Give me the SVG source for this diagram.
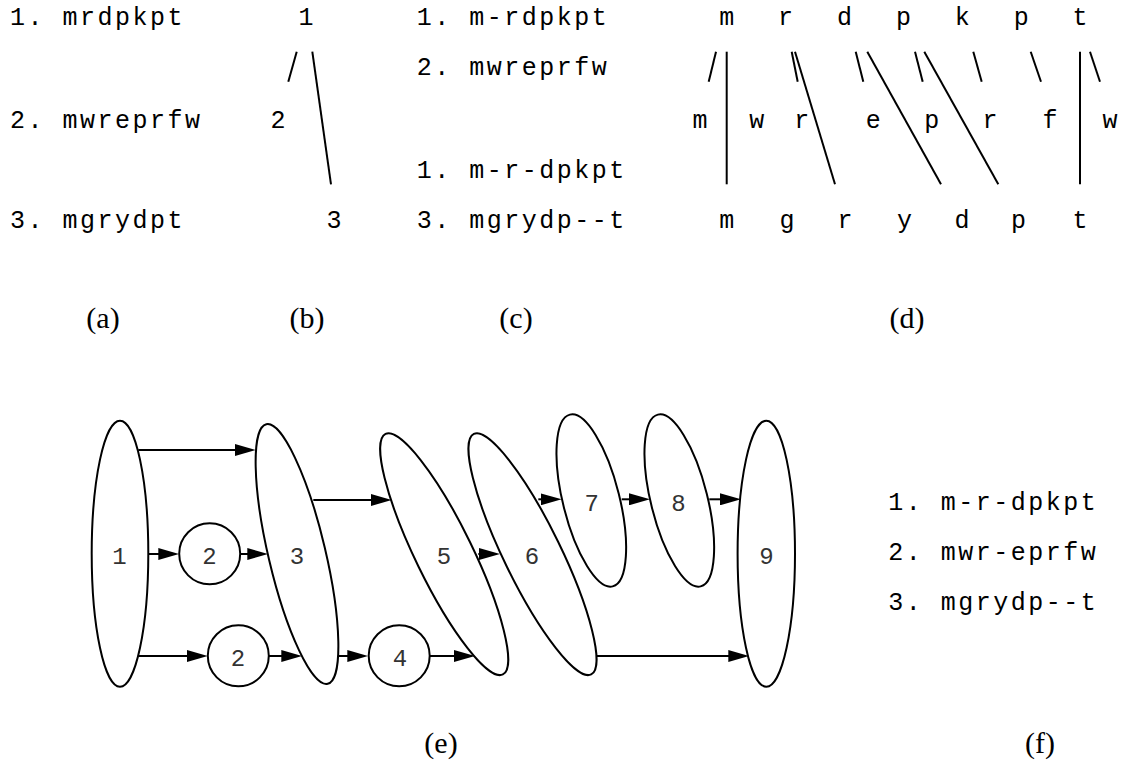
<svg xmlns="http://www.w3.org/2000/svg" width="1125" height="771" viewBox="0 0 1125 771">
<style>
  .mono { font-family: "Liberation Mono", "DejaVu Sans Mono", monospace; font-size: 25px; fill: #000; }
  .row { letter-spacing: 2.5px; }
  .ch { text-anchor: middle; }
  .cap { font-family: "Liberation Serif", "DejaVu Serif", serif; font-size: 30px; fill: #000; text-anchor: middle; }
  .seg { stroke: #000; stroke-width: 2; fill: none; }
  .node { fill: none; stroke: #000; stroke-width: 2; }
  .lbl { font-family: "Liberation Mono", "DejaVu Sans Mono", monospace; font-size: 24px; fill: #333; text-anchor: middle; }
  .edge { stroke: #000; stroke-width: 2; fill: none; marker-end: url(#ah); }
</style>
<defs>
  <marker id="ah" markerUnits="userSpaceOnUse" markerWidth="21" markerHeight="12" refX="11" refY="6" orient="auto">
    <path d="M0,0 L21,6 L0,12 z" fill="#000"/>
  </marker>
</defs>

<!-- (a) -->
<g id="panel-a">
  <text class="mono row" x="10" y="25">1. mrdpkpt</text>
  <text class="mono row" x="10" y="128">2. mwreprfw</text>
  <text class="mono row" x="10" y="228">3. mgrydpt</text>
</g>

<!-- (b) -->
<g id="panel-b">
  <text class="mono ch" x="306" y="25">1</text>
  <text class="mono ch" x="278" y="128">2</text>
  <text class="mono ch" x="334" y="228">3</text>
  <line class="seg" x1="296.7" y1="51.7" x2="288.3" y2="81.7"/>
  <line class="seg" x1="312.3" y1="51.7" x2="331" y2="184.3"/>
</g>

<!-- (c) -->
<g id="panel-c">
  <text class="mono row" x="416.7" y="25">1. m-rdpkpt</text>
  <text class="mono row" x="416.7" y="75">2. mwreprfw</text>
  <text class="mono row" x="416.7" y="178">1. m-r-dpkpt</text>
  <text class="mono row" x="416.7" y="228">3. mgrydp--t</text>
</g>

<!-- (d) -->
<g id="panel-d">
  <g id="d-top">
    <text class="mono ch" x="726.7" y="25">m</text>
    <text class="mono ch" x="785.6" y="25">r</text>
    <text class="mono ch" x="844.5" y="25">d</text>
    <text class="mono ch" x="903.4" y="25">p</text>
    <text class="mono ch" x="962.3" y="25">k</text>
    <text class="mono ch" x="1021.2" y="25">p</text>
    <text class="mono ch" x="1080" y="25">t</text>
  </g>
  <g id="d-mid">
    <text class="mono ch" x="700" y="128">m</text>
    <text class="mono ch" x="756.7" y="128">w</text>
    <text class="mono ch" x="801.7" y="128">r</text>
    <text class="mono ch" x="873.3" y="128">e</text>
    <text class="mono ch" x="931.7" y="128">p</text>
    <text class="mono ch" x="990" y="128">r</text>
    <text class="mono ch" x="1050" y="128">f</text>
    <text class="mono ch" x="1110" y="128">w</text>
  </g>
  <g id="d-bot">
    <text class="mono ch" x="726.7" y="228">m</text>
    <text class="mono ch" x="787" y="228">g</text>
    <text class="mono ch" x="845" y="228">r</text>
    <text class="mono ch" x="904.5" y="228">y</text>
    <text class="mono ch" x="962" y="228">d</text>
    <text class="mono ch" x="1018.5" y="228">p</text>
    <text class="mono ch" x="1080" y="228">t</text>
  </g>
  <g id="d-lines">
    <line class="seg" x1="716" y1="51.7" x2="708.7" y2="81.7"/>
    <line class="seg" x1="726.7" y1="51.7" x2="726.7" y2="184.3"/>
    <line class="seg" x1="791.7" y1="51.7" x2="797.7" y2="81.7"/>
    <line class="seg" x1="795" y1="51.7" x2="835" y2="184.3"/>
    <line class="seg" x1="855.7" y1="51.7" x2="863.3" y2="81.7"/>
    <line class="seg" x1="867.3" y1="51.7" x2="941" y2="184.3"/>
    <line class="seg" x1="915" y1="51.7" x2="922.7" y2="81.7"/>
    <line class="seg" x1="924.3" y1="51.7" x2="998.3" y2="184.3"/>
    <line class="seg" x1="973.3" y1="51.7" x2="981.7" y2="81.7"/>
    <line class="seg" x1="1030.7" y1="51.7" x2="1041" y2="81.7"/>
    <line class="seg" x1="1080" y1="51.7" x2="1080" y2="184.3"/>
    <line class="seg" x1="1090" y1="51.7" x2="1100" y2="81.7"/>
  </g>
</g>

<!-- captions -->
<text class="cap" x="103" y="328">(a)</text>
<text class="cap" x="307" y="328">(b)</text>
<text class="cap" x="516" y="328">(c)</text>
<text class="cap" x="907" y="328">(d)</text>
<text class="cap" x="441" y="753">(e)</text>
<text class="cap" x="1040" y="753">(f)</text>

<!-- (e) connectors -->
<g id="connectors">
  <line class="edge" x1="138.3" y1="450" x2="245.7" y2="450"/>
  <line class="edge" x1="313.3" y1="500" x2="381.7" y2="500"/>
  <line class="edge" x1="148.3" y1="554" x2="169.3" y2="554"/>
  <line class="edge" x1="240" y1="554" x2="258.3" y2="554"/>
  <line class="edge" x1="138.3" y1="656" x2="197.7" y2="656"/>
  <line class="edge" x1="269" y1="656" x2="292.3" y2="656"/>
  <line class="edge" x1="338.3" y1="656" x2="358.3" y2="656"/>
  <line class="edge" x1="430" y1="656" x2="465" y2="656"/>
  <line class="edge" x1="478.3" y1="554" x2="490" y2="554"/>
  <line class="edge" x1="538.3" y1="499.3" x2="551.7" y2="499.3"/>
  <line class="edge" x1="621.7" y1="499.3" x2="640" y2="499.3"/>
  <line class="edge" x1="709.3" y1="499.3" x2="731" y2="499.3"/>
  <line class="edge" x1="596" y1="656" x2="739.3" y2="656"/>
</g>

<!-- (e) nodes -->
<g id="node1">
  <ellipse class="node" cx="120" cy="553.7" rx="28.3" ry="133"/>
  <text class="lbl" x="119.5" y="564">1</text>
</g>
<g id="node2a">
  <circle class="node" cx="209.7" cy="553.8" r="30.5"/>
  <text class="lbl" x="209.5" y="564">2</text>
</g>
<g id="node2b">
  <circle class="node" cx="238.3" cy="655.8" r="30.5"/>
  <text class="lbl" x="238" y="666">2</text>
</g>
<g id="node3">
  <ellipse class="node" cx="297" cy="554" rx="28.5" ry="133.4" transform="rotate(-13.3 297 554)"/>
  <text class="lbl" x="297" y="564">3</text>
</g>
<g id="node4">
  <circle class="node" cx="399.2" cy="655.8" r="30.5"/>
  <text class="lbl" x="400" y="666">4</text>
</g>
<g id="node5">
  <ellipse class="node" cx="444.2" cy="554.2" rx="28.5" ry="133.8" transform="rotate(-26 444.2 554.2)"/>
  <text class="lbl" x="444" y="564">5</text>
</g>
<g id="node6">
  <ellipse class="node" cx="532.5" cy="554.2" rx="28.5" ry="133.8" transform="rotate(-26 532.5 554.2)"/>
  <text class="lbl" x="532" y="564">6</text>
</g>
<g id="node7">
  <ellipse class="node" cx="591.3" cy="500.5" rx="28.3" ry="88.5" transform="rotate(-14 591.3 500.5)"/>
  <text class="lbl" x="591.7" y="510.5">7</text>
</g>
<g id="node8">
  <ellipse class="node" cx="679.3" cy="500.5" rx="28.3" ry="88.5" transform="rotate(-14 679.3 500.5)"/>
  <text class="lbl" x="678.5" y="510.5">8</text>
</g>
<g id="node9">
  <ellipse class="node" cx="766.3" cy="553.7" rx="28.7" ry="133"/>
  <text class="lbl" x="766.5" y="564">9</text>
</g>

<!-- (f) -->
<g id="panel-f">
  <text class="mono row" x="888.3" y="510">1. m-r-dpkpt</text>
  <text class="mono row" x="888.3" y="560">2. mwr-eprfw</text>
  <text class="mono row" x="888.3" y="610">3. mgrydp--t</text>
</g>
</svg>
